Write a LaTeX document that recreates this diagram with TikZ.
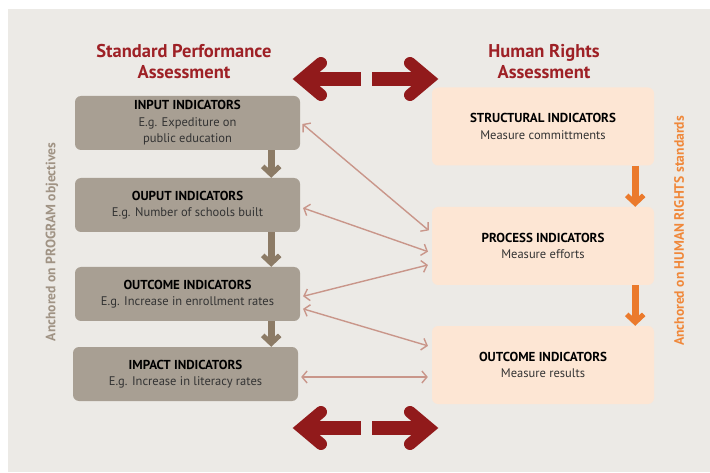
\documentclass[tikz,border=0pt]{standalone}
\usepackage{fontspec}
\setmainfont{PT Sans}
\usetikzlibrary{arrows.meta}

\definecolor{paper}{HTML}{ECEAE6}
\definecolor{progfill}{HTML}{A89F93}
\definecolor{hrfill}{HTML}{FDE6D4}
\definecolor{headred}{HTML}{9E2126}
\definecolor{bigred}{HTML}{911A1B}
\definecolor{linkcol}{HTML}{C9968A}
\definecolor{progflow}{HTML}{8C7B66}
\definecolor{hrflow}{HTML}{EB7A2C}
\definecolor{progtext}{HTML}{A09384}
\definecolor{hrtext}{HTML}{F0883A}
\definecolor{subtext}{HTML}{333333}

\tikzset{
	progbox/.style={fill=progfill, rounded corners=6pt, minimum width=225pt, minimum height=54pt,
		inner sep=0pt, align=center, font=\fontsize{12.5}{16.5}\selectfont},
	hrbox/.style={progbox, fill=hrfill, minimum width=222pt, minimum height=78pt},
	heading/.style={text=headred, align=center, font=\bfseries\fontsize{18.5}{21}\selectfont},
	sidetext/.style={rotate=90, font=\bfseries\fontsize{13.6}{15}\selectfont},
	link/.style={draw=linkcol, line width=1.4pt,
		{Straight Barb[length=5pt,width=12pt]}-{Straight Barb[length=5pt,width=12pt]},
		shorten <=3pt, shorten >=4pt},
	downflow/.style={line width=7pt, -{Straight Barb[length=8pt,width=17pt,line width=5pt]}},
	redshaft/.style={draw=bigred, line width=14pt},
	redhead/.style={draw=bigred, line width=12pt, line cap=round, line join=miter}
}
\newcommand{\boxtitle}[1]{{\fontsize{13}{16.5}\selectfont\textbf{#1}}}

\begin{document}
\begin{tikzpicture}[x=1pt, y=-1pt]
	\useasboundingbox (0,0) rectangle (710,473);
	\fill[white] (0,0) rectangle (710,473);
	\fill[paper] (8,9) rectangle (710,472);

	\node[heading] (progtitle) at (184,62) {Standard Performance\\Assessment};
	\node[heading] (hrtitle) at (544,62) {Human Rights\\Assessment};

	% program side
	\node[progbox] (input) at (187.5,123) {\boxtitle{INPUT INDICATORS}\\\textcolor{subtext}{E.g. Expediture on}\\\textcolor{subtext}{public education}};
	\node[progbox] (output) at (187.5,205) {\boxtitle{OUPUT INDICATORS}\\\textcolor{subtext}{E.g. Number of schools built}};
	\node[progbox] (outcome) at (187.5,294) {\boxtitle{OUTCOME INDICATORS}\\\textcolor{subtext}{E.g. Increase in enrollment rates}};
	\node[progbox] (impact) at (185.5,374) {\boxtitle{IMPACT INDICATORS}\\\textcolor{subtext}{E.g. Increase in literacy rates}};

	% human rights side
	\node[hrbox] (structural) at (543,126.5) {\boxtitle{STRUCTURAL INDICATORS}\\\textcolor{subtext}{Measure committments}};
	\node[hrbox] (process) at (543,246) {\boxtitle{PROCESS INDICATORS}\\\textcolor{subtext}{Measure efforts}};
	\node[hrbox] (results) at (543,365) {\boxtitle{OUTCOME INDICATORS}\\\textcolor{subtext}{Measure results}};

	\node[sidetext, text=progtext] (progaxis) at (52,242) {Anchored on PROGRAM objectives};
	\node[sidetext, text=hrtext] (hraxis) at (679,231) {Anchored on HUMAN RIGHTS standards};

	\draw[downflow, progflow] ([xshift=-29pt]input.south east) -- ([xshift=-29pt]output.north east);
	\draw[downflow, progflow] ([xshift=-29pt]output.south east) -- ([xshift=-29pt]outcome.north east);
	\draw[downflow, progflow] ([xshift=-29pt]outcome.south east) -- ([xshift=-27pt]impact.north east);
	\draw[downflow, hrflow] ([xshift=-19pt]structural.south east) -- ([xshift=-19pt]process.north east);
	\draw[downflow, hrflow] ([xshift=-19pt]process.south east) -- ([xshift=-19pt]results.north east);

	\draw[link] ([yshift=1pt]input.east) -- ([yshift=13pt]process.west);
	\draw[link] ([yshift=-2pt]output.east) -- ([yshift=-7pt]process.west);
	\draw[link] ([yshift=-3pt]outcome.east) -- ([yshift=-18pt]process.west);
	\draw[link] ([yshift=-14pt]outcome.east) -- ([yshift=18pt]results.west);
	\draw[link] ([yshift=-3pt]impact.east) -- ([yshift=-12pt]results.west);

	% the big two-way arrows
	\foreach \y in {79,428} {
		\draw[redshaft] (306,\y) -- (361,\y);
		\draw[redhead] (321,\y-16) -- (302,\y) -- (321,\y+16);
		\draw[redshaft] (372,\y) -- (426,\y);
		\draw[redhead] (410,\y-16) -- (429,\y) -- (410,\y+16);
	}
\end{tikzpicture}
\end{document}
